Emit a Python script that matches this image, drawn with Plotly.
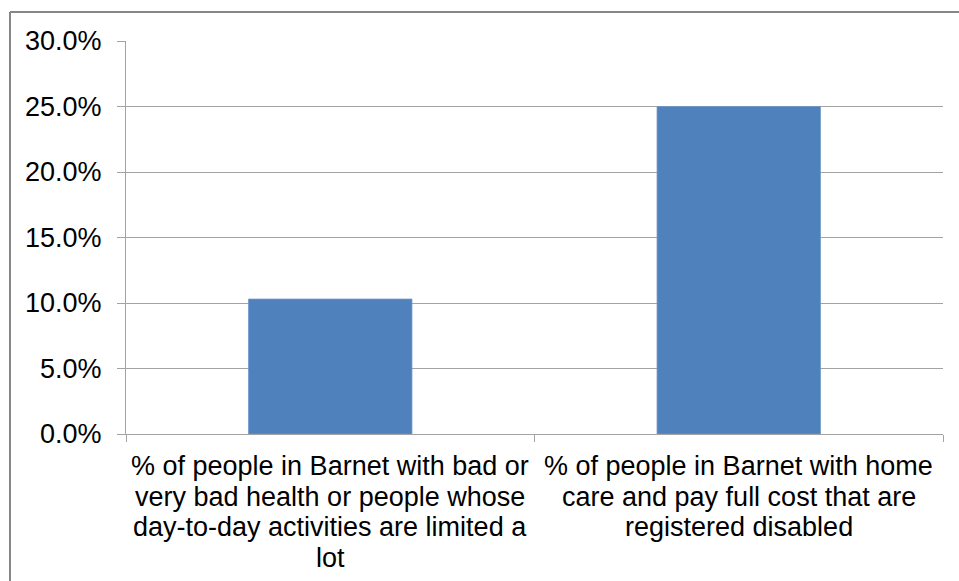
import plotly.graph_objects as go

# Category labels (one entry per wrapped line) and their values
category_lines = [
    ["% of people in Barnet with bad or",
     "very bad health or people whose",
     "day-to-day activities are limited a",
     "lot"],
    ["% of people in Barnet with home",
     "care and pay full cost that are",
     "registered disabled"],
]
values = [0.103, 0.250]

y_ticks = [0.0, 0.05, 0.10, 0.15, 0.20, 0.25, 0.30]

categories = [" ".join(lines) for lines in category_lines]

W, H = 959, 581
L, R, T, B = 126, 16, 41, 147
FONT = "Liberation Sans, Arial, sans-serif"
GRID = "#a3a3a3"
LABEL_SIZE = 27
LINE_STEP = 30.5

fig = go.Figure(
    go.Bar(
        x=categories,
        y=values,
        width=0.4,
        marker=dict(color="#4f81bd", line=dict(color="#7096c9", width=0.8)),
        hoverinfo="skip",
    )
)

# category labels, one line per annotation for tighter line spacing
for cat, lines in zip(categories, category_lines):
    for j, line in enumerate(lines):
        fig.add_annotation(
            x=cat, xref="x", y=0, yref="y",
            yanchor="top", xanchor="center",
            yshift=-(16 + j * LINE_STEP),
            text=line, showarrow=False, borderpad=0,
            font=dict(family=FONT, size=LABEL_SIZE, color="#000000"),
        )

# outer chart frame (top and left edges visible)
pw, ph = W - L - R, H - T - B
fx0 = (10 - L) / pw
fy1 = (H - B - 12) / ph
fig.add_shape(type="line", xref="paper", yref="paper",
              x0=fx0, x1=(W + 20 - L) / pw, y0=fy1, y1=fy1,
              line=dict(color="#878787", width=2))
fig.add_shape(type="line", xref="paper", yref="paper",
              x0=fx0, x1=fx0, y0=fy1, y1=-(B + 20) / ph,
              line=dict(color="#878787", width=2))

fig.update_layout(
    width=W, height=H,
    margin=dict(l=L, r=R, t=T, b=B, pad=0),
    paper_bgcolor="white", plot_bgcolor="white",
    showlegend=False,
    font=dict(family=FONT, size=24, color="#000000"),
    bargap=0.6,
)

fig.update_xaxes(
    showgrid=False,
    showline=True, linecolor=GRID, linewidth=1,
    ticks="outside", tickson="boundaries", ticklen=7, tickcolor=GRID, tickwidth=1,
    showticklabels=False,
    fixedrange=True,
)
fig.update_yaxes(
    range=[0, 0.30],
    tickvals=y_ticks,
    tickformat=".1%",
    showgrid=True, gridcolor=GRID, gridwidth=1,
    zeroline=False,
    showline=True, linecolor=GRID, linewidth=1,
    ticks="outside", ticklen=8, tickcolor=GRID, tickwidth=1,
    ticklabelstandoff=10,
    tickfont=dict(family=FONT, size=27, color="#000000"),
    fixedrange=True,
)

fig.write_html("out.html", config={"displayModeBar": False})
